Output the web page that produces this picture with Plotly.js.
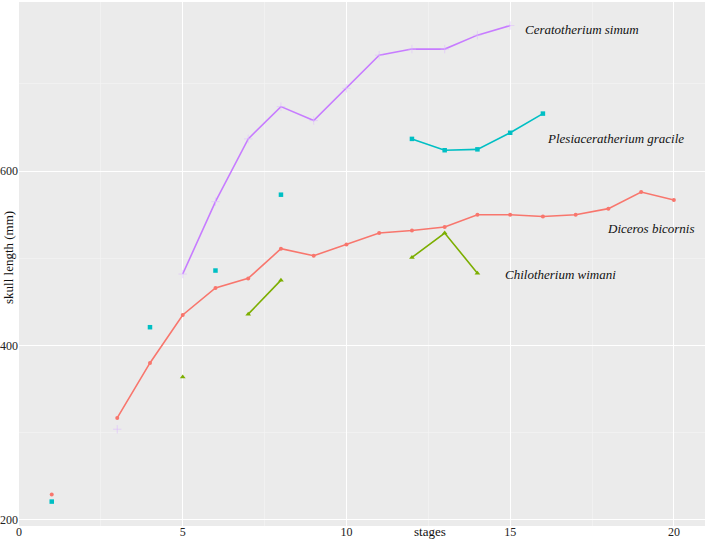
<!DOCTYPE html>
<html>
<head>
<meta charset="utf-8">
<script src="https://cdn.plot.ly/plotly-3.0.1.min.js"></script>
<style>html,body{margin:0;padding:0;background:#fff;}#chart{width:705px;height:539px;}</style>
</head>
<body>
<div id="chart"></div>
<script>
const stages = [1,2,3,4,5,6,7,8,9,10,11,12,13,14,15,16,17,18,19,20];
const diceros = [229,null,317,380,435,466,477,511,503,516,529,532,536,550,550,548,550,557,576,567];
const ceratotherium = [null,null,304,null,482,565,637,674,658,695,733,740,740,756,767,null,null,null,null,null];
const plesiaceratherium = [221,null,null,421,null,486,null,573,null,null,null,637,624,625,644,666,null,null,null,null];
const chilotherium = [null,null,null,null,364,null,436,475,null,null,null,501,529,483,null,null,null,null,null,null];
const speciesNames = ["Ceratotherium simum","Plesiaceratherium gracile","Diceros bicornis","Chilotherium wimani"];
const xTicks = [0,5,10,15,20];
const yTicks = [200,400,600];

const SERIF = "'Liberation Serif', 'Times New Roman', 'DejaVu Serif', serif";

const traces = [
  {x: stages, y: diceros, name: speciesNames[2], type: 'scatter', mode: 'lines+markers',
   line: {color: '#F8766D', width: 1.6}, marker: {color: '#F8766D', size: 4, symbol: 'circle'}},
  {x: stages, y: chilotherium, name: speciesNames[3], type: 'scatter', mode: 'lines+markers',
   line: {color: '#7CAE00', width: 1.6}, marker: {color: '#7CAE00', size: 5, symbol: 'triangle-up'}},
  {x: stages, y: plesiaceratherium, name: speciesNames[1], type: 'scatter', mode: 'lines+markers',
   line: {color: '#00BFC4', width: 1.6}, marker: {color: '#00BFC4', size: 4.5, symbol: 'square'}},
  {x: stages, y: ceratotherium, name: speciesNames[0], type: 'scatter', mode: 'lines+markers',
   line: {color: '#C77CFF', width: 1.6}, marker: {color: 'rgba(220,185,255,0.55)', size: 6, symbol: 'cross-thin-open', line: {color: 'rgba(220,185,255,0.55)', width: 1}}}
];

const labelFont = {family: SERIF, size: 13, color: '#111'};
const layout = {
  width: 705, height: 539,
  margin: {l: 19, r: 0, t: 2, b: 13, pad: 0},
  paper_bgcolor: '#ffffff',
  plot_bgcolor: '#EBEBEB',
  showlegend: false,
  font: {family: SERIF, size: 12, color: '#222'},
  xaxis: {
    range: [0, 20.95], tickvals: xTicks, ticktext: xTicks.map(String),
    showgrid: true, gridcolor: '#ffffff', gridwidth: 1, zeroline: false, showline: false,
    ticks: '', ticklabelstandoff: -3,
    minor: {tickvals: [2.5,7.5,12.5,17.5], showgrid: true, gridcolor: '#F5F5F5', gridwidth: 0.6},
    tickfont: {family: SERIF, size: 12, color: '#222'}
  },
  yaxis: {
    range: [193, 794], tickvals: yTicks, ticktext: yTicks.map(String),
    showgrid: true, gridcolor: '#ffffff', gridwidth: 1, zeroline: false, showline: false,
    ticks: '', ticklabelstandoff: 0,
    minor: {tickvals: [300,500,700], showgrid: true, gridcolor: '#F5F5F5', gridwidth: 0.6},
    tickfont: {family: SERIF, size: 12, color: '#222'}
  },
  annotations: [
    {text: 'stages', xref: 'paper', yref: 'paper', showarrow: false, xanchor: 'center', yanchor: 'middle',
     font: {family: SERIF, size: 13, color: '#111'}},
    {text: 'skull length (mm)', xref: 'paper', yref: 'paper', showarrow: false, textangle: -90,
     xanchor: 'center', yanchor: 'middle', font: {family: SERIF, size: 13, color: '#111'}},
    {text: '<i>' + speciesNames[0] + '</i>', x: 15.38, y: 762, xanchor: 'left', yanchor: 'middle', showarrow: false, font: labelFont},
    {text: '<i>' + speciesNames[1] + '</i>', x: 16.07, y: 638, xanchor: 'left', yanchor: 'middle', showarrow: false, font: labelFont},
    {text: '<i>' + speciesNames[2] + '</i>', x: 17.89, y: 534, xanchor: 'left', yanchor: 'middle', showarrow: false, font: labelFont},
    {text: '<i>' + speciesNames[3] + '</i>', x: 14.79, y: 482, xanchor: 'left', yanchor: 'middle', showarrow: false, font: labelFont}
  ]
};
// axis title positions (pixel -> paper)
layout.annotations[0].x = (430 - 19) / 686;
layout.annotations[0].y = -(531 - 526) / 524;
layout.annotations[1].x = -(19 - 8) / 686;
layout.annotations[1].y = (526 - 258) / 524;
Plotly.newPlot('chart', traces, layout, {displayModeBar: false, staticPlot: true});
</script>
</body>
</html>
